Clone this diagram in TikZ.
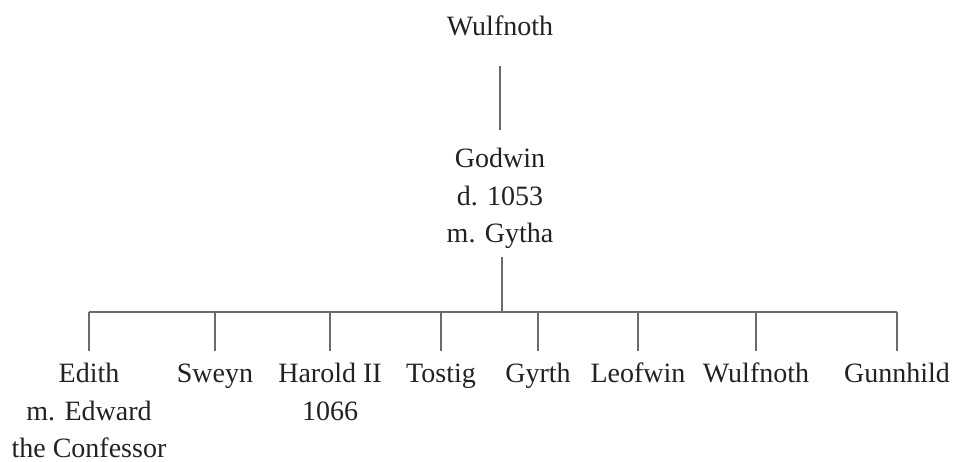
\documentclass[tikz,border=0pt]{standalone}
\usepackage{fontspec}
\setmainfont{Liberation Serif}
\definecolor{inkgray}{HTML}{222222}
\definecolor{linegray}{HTML}{6A6A6A}
\tikzset{
    person/.style={anchor=north, inner sep=0pt, align=center, text=inkgray,
        font=\fontsize{28}{37.5}\selectfont,
        execute at begin node=\vphantom{Hdg}},
    kin/.style={draw=linegray, line width=1.3pt}
}

\begin{document}
\begin{tikzpicture}[x=1pt, y=-1pt]
    \useasboundingbox (0,0) rectangle (958,461);

    % parents
    \node[person] (wulfA) at (500, 16) {Wulfnoth};
    \node[person] (godwin) at (500, 148) {Godwin\\d. 1053\\m. Gytha};

    % children of Godwin
    \node[person] (edith) at (89, 363) {Edith\\m. Edward\\the Confessor};
    \node[person] (sweyn) at (215, 363) {Sweyn};
    \node[person] (harold) at (330, 363) {Harold II\\1066};
    \node[person] (tostig) at (441, 363) {Tostig};
    \node[person] (gyrth) at (538, 363) {Gyrth};
    \node[person] (leofwin) at (638, 363) {Leofwin};
    \node[person] (wulfB) at (756, 363) {Wulfnoth};
    \node[person] (gunn) at (897, 363) {Gunnhild};

    \coordinate (bar) at (502, 312);

    \draw[kin] ([yshift=-24pt]wulfA.south) -- ([yshift=18pt]godwin.north);
    \draw[kin] ([yshift=-8pt]godwin.south -| bar) -- (bar);
    \draw[kin] (edith.north |- bar) -- (gunn.north |- bar);

    \draw[kin] (edith.north |- bar) -- ([yshift=12pt]edith.north);
    \draw[kin] (sweyn.north |- bar) -- ([yshift=12pt]sweyn.north);
    \draw[kin] (harold.north |- bar) -- ([yshift=12pt]harold.north);
    \draw[kin] (tostig.north |- bar) -- ([yshift=12pt]tostig.north);
    \draw[kin] (gyrth.north |- bar) -- ([yshift=12pt]gyrth.north);
    \draw[kin] (leofwin.north |- bar) -- ([yshift=12pt]leofwin.north);
    \draw[kin] (wulfB.north |- bar) -- ([yshift=12pt]wulfB.north);
    \draw[kin] (gunn.north |- bar) -- ([yshift=12pt]gunn.north);
\end{tikzpicture}
\end{document}
